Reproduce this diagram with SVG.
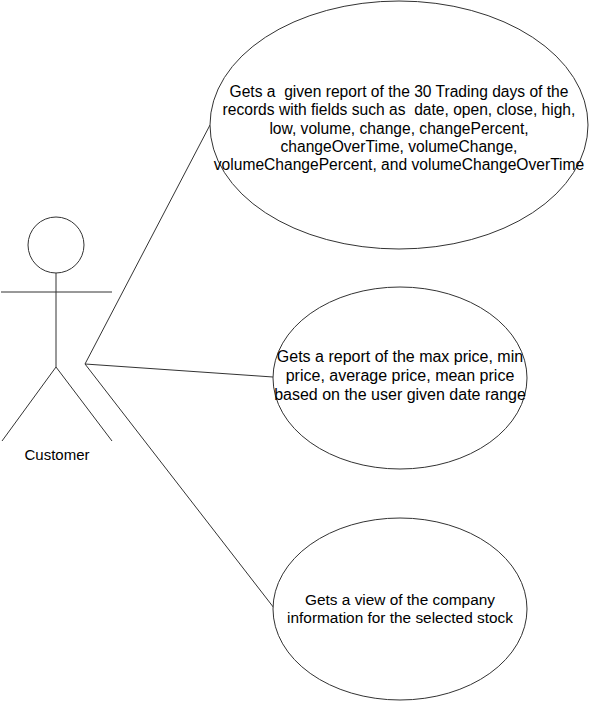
<svg xmlns="http://www.w3.org/2000/svg" width="589" height="701" viewBox="0 0 589 701">
  <style>
    .shape { fill: #ffffff; stroke: #333333; stroke-width: 1; }
    .line { fill: none; stroke: #333333; stroke-width: 1; }
    .label { font-family: "Liberation Sans", Arial, sans-serif; font-size: 15px; fill: #000000; text-anchor: middle; white-space: pre; }
    .uc1 { font-size: 15.6px; }
    .uc2 { font-size: 16px; }
    .uc3 { font-size: 15.4px; }
  </style>
  <rect x="0" y="0" width="589" height="701" fill="#ffffff"/>
  <g id="connectors">
    <line class="line" x1="85" y1="364" x2="210" y2="125"/>
    <line class="line" x1="85" y1="364" x2="273" y2="377"/>
    <line class="line" x1="85" y1="364" x2="274" y2="608"/>
  </g>
  <g id="customer">
    <circle class="shape" cx="56" cy="245" r="28"/>
    <line class="line" x1="56" y1="273" x2="56" y2="367"/>
    <line class="line" x1="1" y1="292" x2="112" y2="292"/>
    <line class="line" x1="56" y1="367" x2="2" y2="441"/>
    <line class="line" x1="56" y1="367" x2="112" y2="441"/>
    <text class="label" x="57" y="460">Customer</text>
  </g>
  <g id="usecase-report30">
    <ellipse class="shape" cx="399" cy="125" rx="189" ry="124"/>
    <text class="label uc1" x="399" y="97" xml:space="preserve">Gets a  given report of the 30 Trading days of the</text>
    <text class="label uc1" x="399" y="115.3" xml:space="preserve">records with fields such as  date, open, close, high,</text>
    <text class="label uc1" x="399" y="133.6">low, volume, change, changePercent,</text>
    <text class="label uc1" x="399" y="151.9">changeOverTime, volumeChange,</text>
    <text class="label uc1" x="399" y="170.2">volumeChangePercent, and volumeChangeOverTime</text>
  </g>
  <g id="usecase-pricereport">
    <ellipse class="shape" cx="400" cy="378" rx="127" ry="91"/>
    <text class="label uc2" x="400" y="362">Gets a report of the max price, min</text>
    <text class="label uc2" x="400" y="381">price, average price, mean price</text>
    <text class="label uc2" x="400" y="400">based on the user given date range</text>
  </g>
  <g id="usecase-companyinfo">
    <ellipse class="shape" cx="400" cy="609" rx="127" ry="91"/>
    <text class="label uc3" x="400" y="605">Gets a view of the company</text>
    <text class="label uc3" x="400" y="623">information for the selected stock</text>
  </g>
</svg>
